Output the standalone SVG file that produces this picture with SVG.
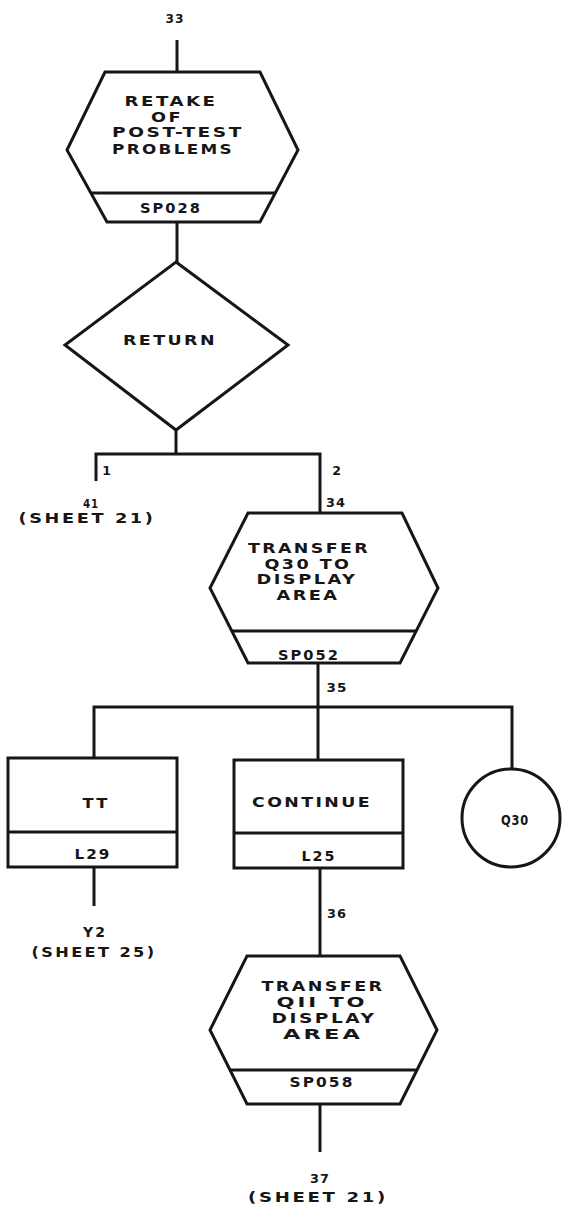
<svg xmlns="http://www.w3.org/2000/svg" width="565" height="1214" viewBox="0 0 565 1214">
<style>
.ln{stroke:#161616;stroke-width:3;fill:none;stroke-linecap:butt}
.sh{fill:#fff;stroke:#161616;stroke-width:3;stroke-linejoin:miter}
.sep{stroke:#161616;stroke-width:3}
text{font-family:"DejaVu Sans","Liberation Sans",Arial,sans-serif;font-weight:bold;fill:#161616;text-anchor:middle}
.t{font-size:14.5px;letter-spacing:2px}
.n{font-size:12.5px;letter-spacing:1px}
.m{font-size:13.5px;letter-spacing:2px}
.q{font-size:14px;letter-spacing:1px}
</style>
<rect width="565" height="1214" fill="#fff"/>
<g id="connectors">
<line class="ln" x1="177" y1="40" x2="177" y2="72"/>
<line class="ln" x1="177" y1="222" x2="177" y2="262"/>
<line class="ln" x1="176" y1="430" x2="176" y2="454"/>
<polyline class="ln" points="96,481 96,454 320,454 320,513"/>
<line class="ln" x1="318" y1="663" x2="318" y2="707"/>
<polyline class="ln" points="94,758 94,707 512,707 512,769"/>
<line class="ln" x1="318" y1="707" x2="318" y2="760"/>
<line class="ln" x1="94" y1="867" x2="94" y2="906"/>
<line class="ln" x1="320" y1="868" x2="320" y2="956"/>
<line class="ln" x1="320" y1="1104" x2="320" y2="1152"/>
<text class="n" x="175" y="23" textLength="19" lengthAdjust="spacingAndGlyphs">33</text>
<text class="n" x="107" y="475">1</text>
<text class="n" x="337" y="475">2</text>
<text class="n" x="91" y="508" textLength="16" lengthAdjust="spacingAndGlyphs">41</text>
<text class="m" x="87" y="523" textLength="137" lengthAdjust="spacingAndGlyphs">(SHEET 21)</text>
<text class="n" x="336" y="507" textLength="20" lengthAdjust="spacingAndGlyphs">34</text>
<text class="n" x="337" y="692" textLength="21" lengthAdjust="spacingAndGlyphs">35</text>
<text class="m" x="95" y="937" textLength="24" lengthAdjust="spacingAndGlyphs">Y2</text>
<text class="m" x="94" y="957" textLength="125" lengthAdjust="spacingAndGlyphs">(SHEET 25)</text>
<text class="n" x="337" y="918" textLength="20" lengthAdjust="spacingAndGlyphs">36</text>
<text class="n" x="320" y="1183" textLength="20" lengthAdjust="spacingAndGlyphs">37</text>
<text class="m" x="318" y="1202" textLength="140" lengthAdjust="spacingAndGlyphs">(SHEET 21)</text>
</g>
<g id="sp028">
<polygon class="sh" points="105,72 260,72 298,150 260,222 107,222 67,150"/>
<line class="sep" x1="91" y1="193" x2="275" y2="193"/>
<text class="t" x="171" y="106" textLength="93" lengthAdjust="spacingAndGlyphs">RETAKE</text>
<text class="t" x="167" y="122" textLength="32" lengthAdjust="spacingAndGlyphs">OF</text>
<text class="t" x="178" y="137" textLength="132" lengthAdjust="spacingAndGlyphs">POST-TEST</text>
<text class="t" x="173" y="154" textLength="122" lengthAdjust="spacingAndGlyphs">PROBLEMS</text>
<text class="t" x="171" y="213" textLength="62" lengthAdjust="spacingAndGlyphs">SP028</text>
</g>
<g id="return">
<polygon class="sh" points="176,262 288,345 176,430 65,345"/>
<text class="t" x="170" y="345" textLength="94" lengthAdjust="spacingAndGlyphs">RETURN</text>
</g>
<g id="sp052">
<polygon class="sh" points="248,513 402,513 438,588 400,663 248,663 210,588"/>
<line class="sep" x1="231" y1="631" x2="417" y2="631"/>
<text class="t" x="309" y="553" textLength="122" lengthAdjust="spacingAndGlyphs">TRANSFER</text>
<text class="t" x="308" y="569" textLength="87" lengthAdjust="spacingAndGlyphs">Q30 TO</text>
<text class="t" x="307" y="584" textLength="101" lengthAdjust="spacingAndGlyphs">DISPLAY</text>
<text class="t" x="308" y="600" textLength="63" lengthAdjust="spacingAndGlyphs">AREA</text>
<text class="t" x="309" y="660" textLength="62" lengthAdjust="spacingAndGlyphs">SP052</text>
</g>
<g id="l29">
<rect class="sh" x="8" y="758" width="169" height="109"/>
<line class="sep" x1="8" y1="832" x2="177" y2="832"/>
<text class="t" x="96" y="808" textLength="27" lengthAdjust="spacingAndGlyphs">TT</text>
<text class="t" x="93" y="859" textLength="37" lengthAdjust="spacingAndGlyphs">L29</text>
</g>
<g id="l25">
<rect class="sh" x="234" y="760" width="169" height="108"/>
<line class="sep" x1="234" y1="833" x2="403" y2="833"/>
<text class="t" x="312" y="807" textLength="120" lengthAdjust="spacingAndGlyphs">CONTINUE</text>
<text class="t" x="319" y="861" textLength="35" lengthAdjust="spacingAndGlyphs">L25</text>
</g>
<g id="q30">
<circle class="sh" cx="511" cy="818" r="49"/>
<text class="q" x="515" y="825" textLength="28" lengthAdjust="spacingAndGlyphs">Q30</text>
</g>
<g id="sp058">
<polygon class="sh" points="247,956 400,956 437,1030 400,1104 247,1104 210,1030"/>
<line class="sep" x1="230" y1="1070" x2="417" y2="1070"/>
<text class="t" x="323" y="991" textLength="123" lengthAdjust="spacingAndGlyphs">TRANSFER</text>
<text class="t" x="322" y="1007" textLength="91" lengthAdjust="spacingAndGlyphs">QII TO</text>
<text class="t" x="324" y="1023" textLength="105" lengthAdjust="spacingAndGlyphs">DISPLAY</text>
<text class="t" x="323" y="1039" textLength="80" lengthAdjust="spacingAndGlyphs">AREA</text>
<text class="t" x="322" y="1087" textLength="65" lengthAdjust="spacingAndGlyphs">SP058</text>
</g>
</svg>
